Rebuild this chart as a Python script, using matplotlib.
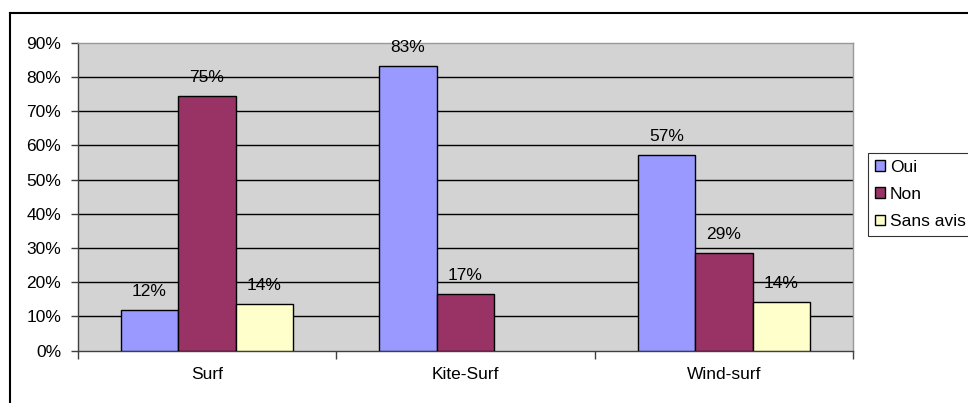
import matplotlib
matplotlib.use("Agg")
import matplotlib.pyplot as plt
import numpy as np
from matplotlib.patches import Patch
from matplotlib.lines import Line2D

categories = ["Surf", "Kite-Surf", "Wind-surf"]
series_names = ["Oui", "Non", "Sans avis"]
oui = [11.8, 83.3, 57.1]
non = [74.5, 16.7, 28.6]
sans_avis = [13.7, 0.0, 14.3]
labels_oui = ["12%", "83%", "57%"]
labels_non = ["75%", "17%", "29%"]
labels_sans = ["14%", "", "14%"]
yticks = [0, 10, 20, 30, 40, 50, 60, 70, 80, 90]

colors = ["#9999FF", "#993366", "#FFFFCC"]

plt.rcParams['font.family'] = ['Liberation Sans', 'DejaVu Sans']
FS = 12.5

fig = plt.figure(figsize=(9.68, 4.03), dpi=100)
ax = fig.add_axes([77.7/968, 1-350.7/403, (853.3-77.7)/968, (350.7-42.7)/403])
ax.set_facecolor("#D3D3D3")

x = np.arange(len(categories))
w = 0.2222
series = [oui, non, sans_avis]
lbls = [labels_oui, labels_non, labels_sans]
for i, (vals, lab) in enumerate(zip(series, lbls)):
    pos = x + (i - 1) * w
    bars = ax.bar(pos, vals, width=w, color=colors[i], edgecolor="black",
                  linewidth=1.0, zorder=3, label=series_names[i])
    for b, v, t in zip(bars, vals, lab):
        if v == 0:
            b.set_linewidth(0)
        if t:
            ax.annotate(t, (b.get_x() + b.get_width()/2, v), xytext=(0, 10),
                        textcoords="offset points", ha="center", va="baseline",
                        fontsize=FS, zorder=4)

ax.set_xlim(-0.5, 2.5)
ax.set_ylim(0, 90)
ax.set_yticks(yticks)
ax.set_yticklabels([f"{t}%" for t in yticks], fontsize=FS)
for t in yticks[1:-1]:
    ax.axhline(t, color="black", linewidth=1.0, zorder=1)

ax.set_xticks([-0.5, 0.5, 1.5, 2.5])
ax.set_xticklabels([])
ax.set_xticks(x, minor=True)
ax.set_xticklabels(categories, minor=True, fontsize=FS)
ax.tick_params(axis="x", which="minor", length=0, pad=12)
ax.tick_params(axis="x", which="major", length=6, width=1, color="#404040", direction="out")
ax.tick_params(axis="y", length=5, width=1, color="#404040", direction="out", pad=7)

for s in ["top", "right"]:
    ax.spines[s].set_color("#999999")
    ax.spines[s].set_linewidth(1.0)
for s in ["left", "bottom"]:
    ax.spines[s].set_color("#404040")
    ax.spines[s].set_linewidth(1.0)

# Outer chart frame (top & left visible)
fig.add_artist(Line2D([10/968, 10/968], [0, 1-13/403], transform=fig.transFigure,
                      color="black", linewidth=1.5))
fig.add_artist(Line2D([10/968, 1], [1-13/403, 1-13/403], transform=fig.transFigure,
                      color="black", linewidth=1.5))

handles = [Patch(facecolor=c, edgecolor="black", linewidth=1.0) for c in colors]
leg = fig.legend(handles, series_names, loc="upper left",
                 bbox_to_anchor=(868.3/968, 1-152.7/403), bbox_transform=fig.transFigure,
                 fontsize=FS, frameon=True, fancybox=False, shadow=False,
                 handlelength=0.55, handleheight=0.55, handletextpad=0.3,
                 labelspacing=0.7, borderpad=0.4, borderaxespad=0)
leg.get_frame().set_edgecolor("black")
leg.get_frame().set_linewidth(0.8)

fig.savefig("out.png", dpi=100)
